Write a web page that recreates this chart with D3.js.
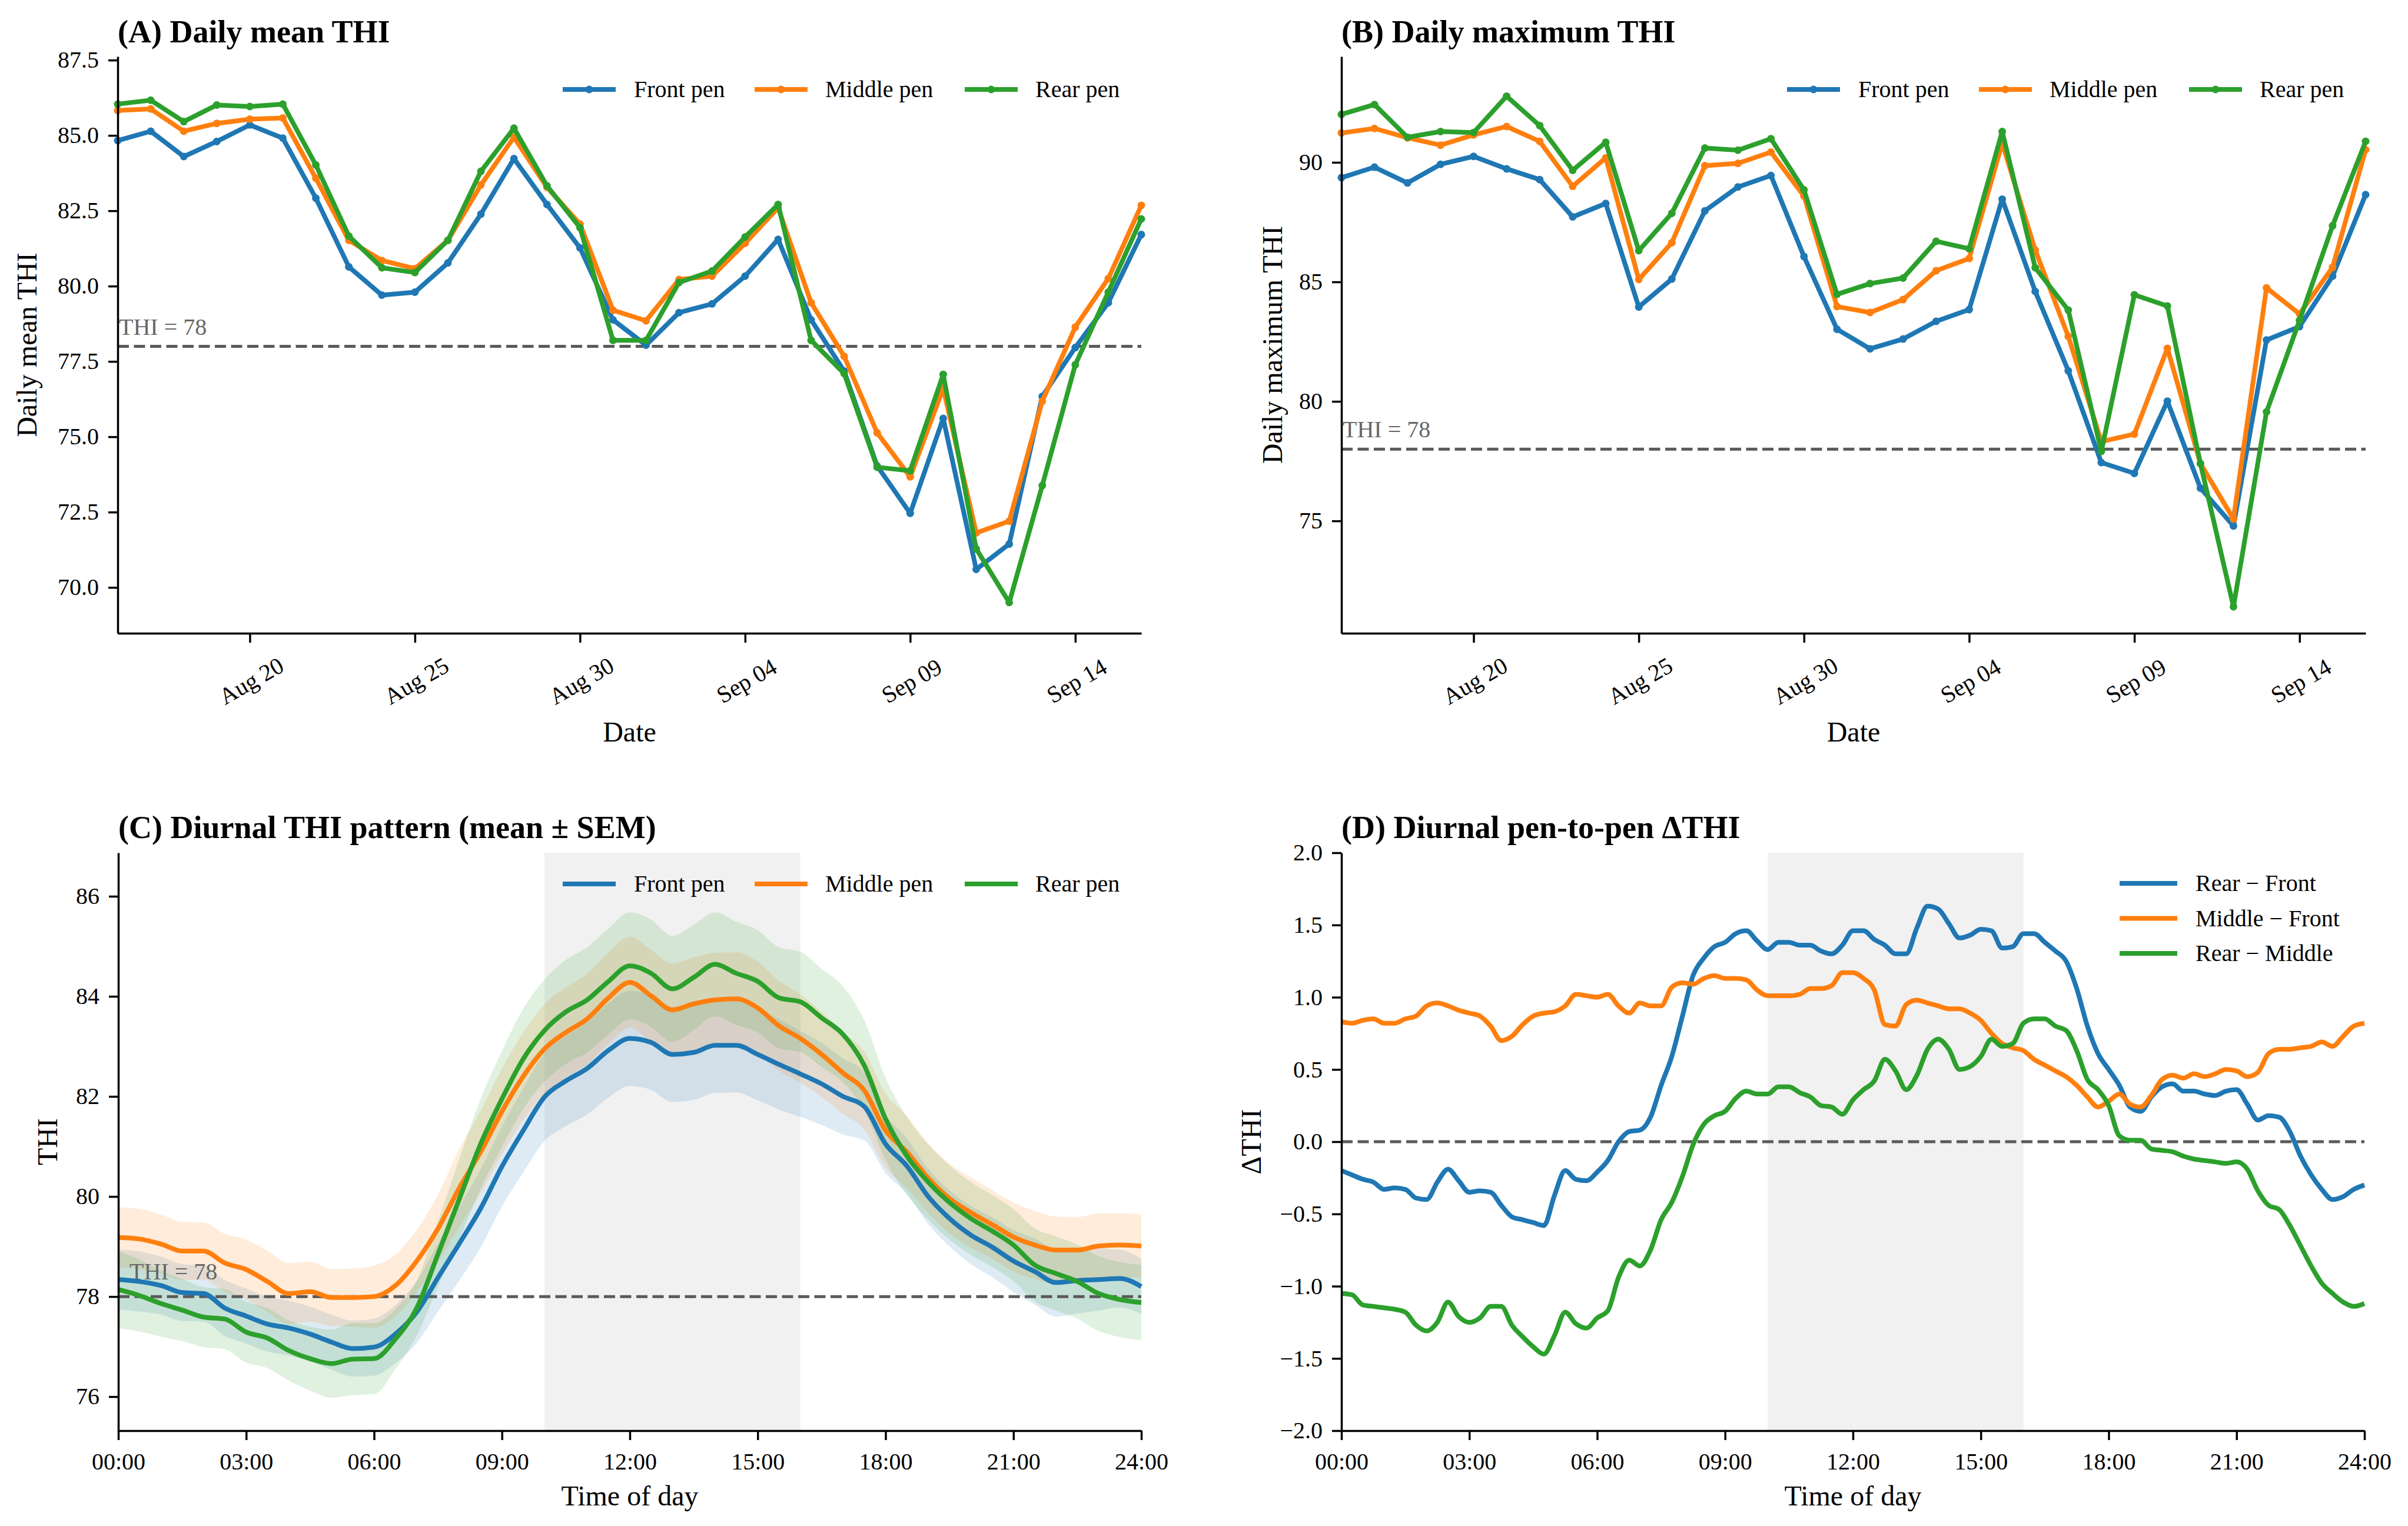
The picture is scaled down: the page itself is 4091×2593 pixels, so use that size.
<!DOCTYPE html>
<html>
<head>
<meta charset="utf-8">
<script src="https://cdn.jsdelivr.net/npm/d3@7"></script>
<style>
  body { margin: 0; background: #fff; }
</style>
</head>
<body>
<div id="chart"></div>
<script>
// ---- data ----
const dates = ["2025-08-16","2025-08-17","2025-08-18","2025-08-19","2025-08-20","2025-08-21","2025-08-22","2025-08-23",
  "2025-08-24","2025-08-25","2025-08-26","2025-08-27","2025-08-28","2025-08-29","2025-08-30","2025-08-31",
  "2025-09-01","2025-09-02","2025-09-03","2025-09-04","2025-09-05","2025-09-06","2025-09-07","2025-09-08",
  "2025-09-09","2025-09-10","2025-09-11","2025-09-12","2025-09-13","2025-09-14","2025-09-15","2025-09-16"]
const dateTicks = ["2025-08-20","2025-08-25","2025-08-30","2025-09-04","2025-09-09","2025-09-14"]

const meanFront  = [84.83,85.14,84.30,84.80,85.35,84.91,82.92,80.64,79.70,79.80,80.77,82.39,84.23,82.71,81.27,78.88,
                    78.04,79.12,79.41,80.33,81.55,78.88,77.18,74.03,72.46,75.61,70.60,71.44,76.34,77.96,79.45,81.71]
const meanMiddle = [85.83,85.88,85.14,85.40,85.54,85.58,83.58,81.52,80.85,80.58,81.52,83.36,84.94,83.28,82.06,79.20,
                    78.85,80.22,80.33,81.42,82.60,79.45,77.67,75.13,73.67,76.61,71.81,72.20,76.18,78.64,80.25,82.68]
const meanRear   = [86.04,86.17,85.46,86.01,85.96,86.04,84.02,81.66,80.61,80.45,81.52,83.81,85.24,83.33,81.94,78.20,
                    78.20,80.12,80.50,81.63,82.71,78.20,77.10,73.99,73.87,77.07,71.28,69.50,73.38,77.39,79.80,82.23]

const maxFront  = [89.36,89.80,89.14,89.92,90.25,89.73,89.28,87.72,88.28,83.95,85.12,87.97,88.97,89.45,86.06,83.02,
                   82.20,82.61,83.35,83.84,88.46,84.60,81.28,77.44,76.99,80.01,76.37,74.79,82.57,83.13,85.24,88.65]
const maxMiddle = [91.23,91.42,91.03,90.72,91.15,91.50,90.88,89.00,90.19,85.10,86.64,89.86,89.96,90.43,88.59,83.97,
                   83.72,84.26,85.47,85.98,90.80,86.33,82.72,78.32,78.63,82.22,77.40,75.08,84.75,83.66,85.61,90.53]
const maxRear   = [92.01,92.42,91.05,91.29,91.25,92.77,91.54,89.67,90.84,86.31,87.87,90.60,90.51,90.99,88.85,84.48,
                   84.93,85.16,86.70,86.39,91.29,85.59,83.82,77.91,84.46,83.99,77.40,71.41,79.56,83.39,87.35,90.88]

// diurnal, every 30 min from 00:00 to 24:00
const halfHours = d3.range(49).map(i => i * 0.5)
const diurFront  = [78.34,78.30,78.22,78.08,78.06,77.77,77.61,77.45,77.37,77.25,77.09,76.96,76.99,
                    77.25,77.69,78.38,79.06,79.76,80.60,81.32,81.99,82.31,82.56,82.92,83.16,
                    83.08,82.84,82.88,83.02,83.02,82.84,82.64,82.45,82.25,82.00,81.80,81.05,
                    80.61,80.00,79.56,79.23,78.99,78.71,78.50,78.28,78.32,78.34,78.36,78.20]
const diurMiddle = [79.18,79.15,79.05,78.91,78.91,78.67,78.54,78.30,78.06,78.10,77.98,77.98,78.00,
                    78.22,78.71,79.36,80.17,80.89,81.70,82.40,82.95,83.28,83.55,83.97,84.28,
                    84.01,83.73,83.85,83.93,83.95,83.77,83.41,83.16,82.84,82.47,82.12,81.32,
                    80.89,80.37,79.96,79.68,79.44,79.19,79.03,78.93,78.93,79.01,79.03,79.01]
const diurRear   = [78.14,78.02,77.86,77.73,77.59,77.55,77.29,77.17,76.92,76.76,76.66,76.75,76.76,
                    77.15,77.77,78.85,79.95,81.05,81.95,82.75,83.32,83.69,83.93,84.30,84.61,
                    84.46,84.15,84.38,84.64,84.46,84.30,83.97,83.89,83.57,83.24,82.62,81.55,
                    80.81,80.29,79.88,79.56,79.31,79.03,78.63,78.46,78.30,78.06,77.94,77.88]
const semFront  = [0.60,0.60,0.58,0.57,0.56,0.56,0.55,0.55,0.55,0.55,0.55,0.56,0.57,
                   0.58,0.62,0.68,0.74,0.78,0.80,0.84,0.88,0.90,0.92,0.94,0.95,
                   0.95,0.95,0.95,0.95,0.94,0.92,0.90,0.86,0.82,0.76,0.68,0.58,
                   0.55,0.55,0.56,0.58,0.60,0.62,0.66,0.68,0.66,0.62,0.58,0.55]
const semMiddle = [0.60,0.60,0.59,0.58,0.57,0.58,0.60,0.61,0.61,0.60,0.57,0.58,0.62,
                   0.62,0.62,0.68,0.78,0.82,0.86,0.88,0.90,0.90,0.91,0.91,0.91,
                   0.92,0.93,0.93,0.94,0.93,0.92,0.90,0.88,0.85,0.82,0.78,0.74,
                   0.72,0.70,0.70,0.70,0.69,0.69,0.68,0.67,0.66,0.65,0.64,0.63]
const semRear   = [0.77,0.72,0.66,0.62,0.60,0.60,0.61,0.60,0.60,0.64,0.68,0.72,0.71,
                   0.60,0.55,0.65,0.80,0.90,0.96,1.00,1.02,1.04,1.05,1.06,1.07,
                   1.07,1.06,1.05,1.04,1.03,1.02,1.01,1.00,0.98,0.96,0.90,0.82,
                   0.78,0.75,0.74,0.73,0.72,0.72,0.73,0.74,0.74,0.75,0.75,0.75]

// pen-to-pen differences, every 15 min
const quarterHours = d3.range(97).map(i => i * 0.25)
const rearMinusFront = [-0.20,-0.23,-0.26,-0.28, -0.33,-0.32,-0.33,-0.39, -0.40,-0.28,-0.19,-0.27,
  -0.35,-0.34,-0.35,-0.44, -0.52,-0.54,-0.56,-0.58, -0.37,-0.20,-0.26,-0.27, -0.21,-0.13,0.00,0.07,
  0.08,0.17,0.39,0.59, 0.87,1.15,1.27,1.35, 1.38,1.44,1.46,1.39, 1.33,1.38,1.38,1.36,
  1.36,1.32,1.30,1.36, 1.46,1.46,1.40,1.36, 1.30,1.30,1.48,1.63, 1.61,1.51,1.41,1.43,
  1.47,1.46,1.34,1.35, 1.44,1.44,1.38,1.32, 1.25,1.06,0.80,0.61, 0.50,0.39,0.24,0.21,
  0.31,0.38,0.40,0.35, 0.35,0.33,0.32,0.35, 0.36,0.26,0.15,0.18, 0.17,0.07,-0.10,-0.23,
  -0.33,-0.40,-0.38,-0.33, -0.30]
const middleMinusFront = [0.83,0.82,0.84,0.85, 0.82,0.82,0.85,0.87, 0.94,0.96,0.94,0.91,
  0.89,0.87,0.80,0.70, 0.73,0.81,0.87,0.89, 0.90,0.94,1.02,1.01, 1.00,1.02,0.94,0.89,
  0.96,0.94,0.94,1.07, 1.10,1.09,1.13,1.15, 1.13,1.13,1.12,1.05, 1.01,1.01,1.01,1.02,
  1.06,1.06,1.08,1.17, 1.17,1.13,1.05,0.81, 0.80,0.95,0.98,0.96, 0.94,0.92,0.92,0.89,
  0.84,0.75,0.68,0.65, 0.63,0.57,0.53,0.49, 0.45,0.39,0.31,0.24, 0.28,0.33,0.26,0.24,
  0.32,0.43,0.46,0.44, 0.47,0.45,0.47,0.50, 0.49,0.45,0.48,0.61, 0.64,0.64,0.65,0.66,
  0.69,0.66,0.73,0.80, 0.82]
const rearMinusMiddle = [-1.05,-1.06,-1.13,-1.14, -1.15,-1.16,-1.18,-1.27, -1.31,-1.25,-1.11,-1.21,
  -1.25,-1.22,-1.14,-1.14, -1.27,-1.35,-1.42,-1.47, -1.34,-1.18,-1.26,-1.29, -1.22,-1.17,-0.94,-0.82,
  -0.86,-0.75,-0.54,-0.42, -0.24,-0.02,0.12,0.18, 0.21,0.30,0.35,0.33, 0.33,0.38,0.38,0.34,
  0.31,0.25,0.24,0.19, 0.29,0.36,0.42,0.57, 0.49,0.36,0.46,0.64, 0.71,0.64,0.50,0.52,
  0.59,0.71,0.66,0.68, 0.82,0.85,0.85,0.80, 0.77,0.63,0.43,0.36, 0.25,0.04,0.01,0.01,
  -0.05,-0.06,-0.07,-0.10, -0.12,-0.13,-0.14,-0.15, -0.14,-0.19,-0.34,-0.44, -0.47,-0.58,-0.72,-0.86,
  -0.98,-1.05,-1.11,-1.14, -1.12]

const penNames = ["Front pen", "Middle pen", "Rear pen"]
const diffNames = ["Rear \u2212 Front", "Middle \u2212 Front", "Rear \u2212 Middle"]
const hourTicks = [0, 3, 6, 9, 12, 15, 18, 21, 24]
const THI_LIMIT = 78
const peakStart = 10, peakEnd = 16

// ---- look ----
const FONT = '"Liberation Serif", "Times New Roman", "DejaVu Serif", serif'
const colors = ["#1f77b4", "#ff7f0e", "#2ca02c"]
const W = 4091, H = 2593

const parseDay = d3.timeParse("%Y-%m-%d")
const days = dates.map(parseDay)

const svg = d3.select("#chart").append("svg")
    .attr("width", W)
    .attr("height", H)
    .attr("font-family", FONT)
    .style("background", "#fff")

svg.append("rect").attr("width", W).attr("height", H).attr("fill", "#fff")

const panels = {
    A: { left: 200, right: 1939, top: 96, bottom: 1076 },
    B: { left: 2279, right: 4019, top: 96, bottom: 1076 },
    C: { left: 201, right: 1939, top: 1449, bottom: 2431 },
    D: { left: 2279, right: 4017, top: 1449, bottom: 2431 }
}

function styleAxis(g) {
    g.attr("font-family", FONT).attr("font-size", 40)
    g.select(".domain").attr("stroke", "#000").attr("stroke-width", 3.5)
    g.selectAll(".tick line").attr("stroke", "#000").attr("stroke-width", 3.5)
    g.selectAll(".tick text").attr("fill", "#000")
}

function title(p, txt, baseline) {
    svg.append("text")
        .attr("x", p.left)
        .attr("y", baseline)
        .attr("font-size", 54)
        .attr("font-weight", "bold")
        .text(txt)
}

function yLabel(p, txt, cx) {
    svg.append("text")
        .attr("transform", `translate(${cx}, ${(p.top + p.bottom) / 2}) rotate(-90)`)
        .attr("text-anchor", "middle")
        .attr("dy", "0.35em")
        .attr("font-size", 48)
        .text(txt)
}

function xLabel(p, txt, baseline) {
    svg.append("text")
        .attr("x", (p.left + p.right) / 2)
        .attr("y", baseline)
        .attr("text-anchor", "middle")
        .attr("font-size", 48)
        .text(txt)
}

function hLineDashed(p, yPos) {
    svg.append("line")
        .attr("x1", p.left).attr("x2", p.right)
        .attr("y1", yPos).attr("y2", yPos)
        .attr("stroke", "#5a5a5a")
        .attr("stroke-width", 5)
        .attr("stroke-dasharray", "19 8.5")
}

// horizontal legend (A, B, C)
const legendLineX = [-983, -657, -300]
const legendTextX = [-862, -537, -180]

function rowLegend(p, cy, markers, lw) {
    penNames.forEach((name, i) => {
        const x0 = p.right + legendLineX[i]
        svg.append("line")
            .attr("x1", x0).attr("x2", x0 + 90)
            .attr("y1", cy).attr("y2", cy)
            .attr("stroke", colors[i])
            .attr("stroke-width", lw)
        if (markers)
            svg.append("circle")
                .attr("cx", x0 + 45).attr("cy", cy).attr("r", 6.5)
                .attr("fill", colors[i])
        svg.append("text")
            .attr("x", p.right + legendTextX[i])
            .attr("y", cy)
            .attr("dy", "0.33em")
            .attr("font-size", 40)
            .text(name)
    })
}

function dailyPanel(p, series, yDomain, yTicks, yFmt, txt, ylab, ylabX, thiY) {
    const x = d3.scaleTime()
        .domain([days[0], days[days.length - 1]])
        .range([p.left, p.right])
    const y = d3.scaleLinear()
        .domain(yDomain)
        .range([p.bottom, p.top])

    hLineDashed(p, y(THI_LIMIT))
    svg.append("text")
        .attr("x", p.left + 2)
        .attr("y", y(THI_LIMIT) - thiY)
        .attr("font-size", 40)
        .attr("fill", "#666")
        .text("THI = 78")

    series.forEach((vals, i) => {
        svg.append("path")
            .datum(vals)
            .attr("fill", "none")
            .attr("stroke", colors[i])
            .attr("stroke-width", 8)
            .attr("stroke-linejoin", "round")
            .attr("d", d3.line()
                .x((d, j) => x(days[j]))
                .y(d => y(d)))
        svg.append("g")
            .selectAll("circle")
            .data(vals)
            .join("circle")
            .attr("cx", (d, j) => x(days[j]))
            .attr("cy", d => y(d))
            .attr("r", 6.5)
            .attr("fill", colors[i])
    })

    const gx = svg.append("g")
        .attr("transform", `translate(0, ${p.bottom})`)
        .call(d3.axisBottom(x)
            .tickValues(dateTicks.map(parseDay))
            .tickFormat(d3.timeFormat("%b %d"))
            .tickSize(16)
            .tickSizeOuter(0))
    styleAxis(gx)
    gx.selectAll(".tick text")
        .attr("y", null)
        .attr("dy", null)
        .attr("text-anchor", "middle")
        .attr("dominant-baseline", "central")
        .attr("transform", "translate(2, 81) rotate(-30)")

    const gy = svg.append("g")
        .attr("transform", `translate(${p.left}, 0)`)
        .call(d3.axisLeft(y)
            .tickValues(yTicks)
            .tickFormat(yFmt)
            .tickSize(16)
            .tickPadding(16)
            .tickSizeOuter(0))
    styleAxis(gy)

    rowLegend(p, 152, true, 8)
    title(p, txt, 72)
    yLabel(p, ylab, ylabX)
    xLabel(p, "Date", 1260)
}

function hourAxis(p, x) {
    const gx = svg.append("g")
        .attr("transform", `translate(0, ${p.bottom})`)
        .call(d3.axisBottom(x)
            .tickValues(hourTicks)
            .tickFormat(h => String(h).padStart(2, "0") + ":00")
            .tickSize(16)
            .tickPadding(22)
            .tickSizeOuter(0))
    styleAxis(gx)
}

function peakShade(p, x) {
    svg.append("rect")
        .attr("x", x(peakStart))
        .attr("y", p.top)
        .attr("width", x(peakEnd) - x(peakStart))
        .attr("height", p.bottom - p.top)
        .attr("fill", "#f1f1f1")
}

// ---- (A) and (B) ----
dailyPanel(panels.A, [meanFront, meanMiddle, meanRear], [68.48, 87.62],
    [70, 72.5, 75, 77.5, 80, 82.5, 85, 87.5], d3.format(".1f"),
    "(A) Daily mean THI", "Daily mean THI", 45, 20)

dailyPanel(panels.B, [maxFront, maxMiddle, maxRear], [70.3, 94.43],
    [75, 80, 85, 90], d3.format("d"),
    "(B) Daily maximum THI", "Daily maximum THI", 2161, 20)

// ---- (C) diurnal pattern ----
{
    const p = panels.C
    const x = d3.scaleLinear().domain([0, 24]).range([p.left, p.right])
    const y = d3.scaleLinear().domain([75.32, 86.87]).range([p.bottom, p.top])

    peakShade(p, x)

    const means = [diurFront, diurMiddle, diurRear]
    const sems = [semFront, semMiddle, semRear]

    means.forEach((m, i) => {
        svg.append("path")
            .datum(m)
            .attr("fill", colors[i])
            .attr("fill-opacity", 0.15)
            .attr("d", d3.area()
                .x((d, j) => x(halfHours[j]))
                .y0((d, j) => y(d - sems[i][j]))
                .y1((d, j) => y(d + sems[i][j]))
                .curve(d3.curveMonotoneX))
    })

    hLineDashed(p, y(THI_LIMIT))
    svg.append("text")
        .attr("x", 220)
        .attr("y", y(THI_LIMIT) - 29)
        .attr("font-size", 40)
        .attr("fill", "#666")
        .text("THI = 78")

    means.forEach((m, i) => {
        svg.append("path")
            .datum(m)
            .attr("fill", "none")
            .attr("stroke", colors[i])
            .attr("stroke-width", 8)
            .attr("stroke-linejoin", "round")
            .attr("d", d3.line()
                .x((d, j) => x(halfHours[j]))
                .y(d => y(d))
                .curve(d3.curveMonotoneX))
    })

    hourAxis(p, x)
    const gy = svg.append("g")
        .attr("transform", `translate(${p.left}, 0)`)
        .call(d3.axisLeft(y)
            .tickValues([76, 78, 80, 82, 84, 86])
            .tickSize(16)
            .tickPadding(16)
            .tickSizeOuter(0))
    styleAxis(gy)

    rowLegend(p, 1502, false, 8)
    title(p, "(C) Diurnal THI pattern (mean \u00b1 SEM)", 1424)
    yLabel(p, "THI", 80)
    xLabel(p, "Time of day", 2558)
}

// ---- (D) pen-to-pen differences ----
{
    const p = panels.D
    const x = d3.scaleLinear().domain([0, 24]).range([p.left, p.right])
    const y = d3.scaleLinear().domain([-2, 2]).range([p.bottom, p.top])

    peakShade(p, x)
    hLineDashed(p, y(0))

    const diffs = [rearMinusFront, middleMinusFront, rearMinusMiddle]
    diffs.forEach((vals, i) => {
        svg.append("path")
            .datum(vals)
            .attr("fill", "none")
            .attr("stroke", colors[i])
            .attr("stroke-width", 8)
            .attr("stroke-linejoin", "round")
            .attr("d", d3.line()
                .x((d, j) => x(quarterHours[j]))
                .y(d => y(d))
                .curve(d3.curveMonotoneX))
    })

    hourAxis(p, x)
    const gy = svg.append("g")
        .attr("transform", `translate(${p.left}, 0)`)
        .call(d3.axisLeft(y)
            .tickValues(d3.range(-2, 2.01, 0.5))
            .tickFormat(d3.format(".1f"))
            .tickSize(16)
            .tickPadding(16)
            .tickSizeOuter(0))
    styleAxis(gy)

    // vertical legend, upper right
    diffNames.forEach((name, i) => {
        const cy = 1501 + i * 59.5
        svg.append("line")
            .attr("x1", 3601).attr("x2", 3699)
            .attr("y1", cy).attr("y2", cy)
            .attr("stroke", colors[i])
            .attr("stroke-width", 8)
        svg.append("text")
            .attr("x", 3730)
            .attr("y", cy)
            .attr("dy", "0.33em")
            .attr("font-size", 40)
            .text(name)
    })

    title(p, "(D) Diurnal pen-to-pen \u0394THI", 1424)
    yLabel(p, "\u0394THI", 2125)
    xLabel(p, "Time of day", 2558)
}
</script>
</body>
</html>
